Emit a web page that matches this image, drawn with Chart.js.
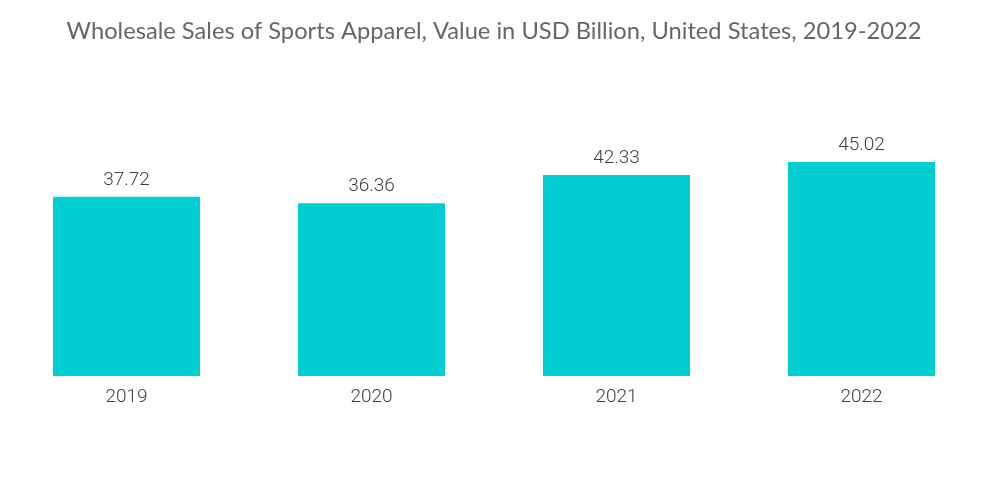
<!DOCTYPE html>
<html lang="en">

<head>
  <meta charset="UTF-8">
  <title>Wholesale Sales of Sports Apparel</title>
  <style>
    html, body {
      margin: 0;
      padding: 0;
      background: #ffffff;
    }

    #chart-container {
      width: 1000px;
      height: 504px;
    }
  </style>
</head>

<body>
  <div id="chart-container">
    <canvas id="salesChart"></canvas>
  </div>

  <script src="https://cdn.jsdelivr.net/npm/chart.js"></script>
  <script>
    const years = ['2019', '2020', '2021', '2022'];
    const salesValues = [37.72, 36.36, 42.33, 45.02];
    const valueLabels = ['37.72', '36.36', '42.33', '45.02'];

    // draws the value above each bar
    const barValuePlugin = {
      id: 'barValues',
      afterDatasetsDraw(chart) {
        const ctx = chart.ctx;
        const meta = chart.getDatasetMeta(0);
        ctx.save();
        ctx.font = '300 19px Roboto';
        ctx.fillStyle = '#404040';
        ctx.textAlign = 'center';
        ctx.textBaseline = 'middle';
        meta.data.forEach((bar, i) => {
          ctx.fillText(valueLabels[i], bar.x, bar.y - 17);
        });
        ctx.restore();
      }
    };

    const ctx = document.getElementById('salesChart').getContext('2d');

    const chart = new Chart(ctx, {
      type: 'bar',
      data: {
        labels: years,
        datasets: [{
          data: salesValues,
          backgroundColor: '#00CED1',
          borderWidth: 0,
          barPercentage: 0.6,
          categoryPercentage: 1.0
        }]
      },
      options: {
        responsive: true,
        maintainAspectRatio: false,
        animation: false,
        layout: {
          padding: { left: 4, right: 16, top: 0, bottom: 85 }
        },
        scales: {
          x: {
            grid: { display: false, drawTicks: false },
            border: { display: false },
            ticks: {
              padding: 10,
              color: '#404040',
              font: { family: 'Roboto', size: 19, weight: 300 }
            }
          },
          y: {
            display: false,
            min: 0,
            max: 50
          }
        },
        plugins: {
          legend: { display: false },
          tooltip: { enabled: false },
          title: {
            display: true,
            text: 'Wholesale Sales of Sports Apparel, Value in USD Billion, United States, 2019-2022',
            color: '#666666',
            font: { family: 'Lato', size: 23.7, weight: 'normal' },
            padding: { top: 17, bottom: 93 }
          }
        }
      },
      plugins: [barValuePlugin]
    });
  </script>
</body>

</html>
